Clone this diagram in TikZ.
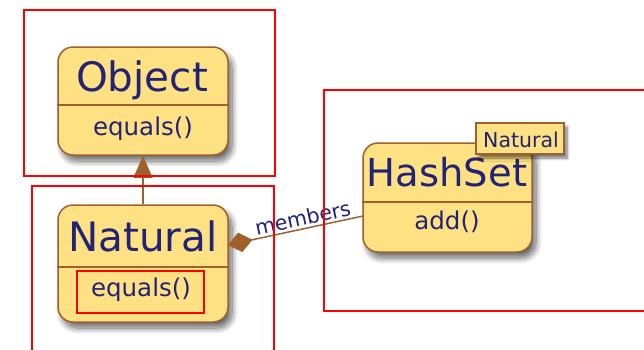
\documentclass[tikz,border=0pt]{standalone}
\usepackage{fontspec}
\setmainfont{DejaVu Sans}
\usetikzlibrary{arrows.meta,shadows.blur}
\definecolor{classfill}{HTML}{FEE182}
\definecolor{classedge}{HTML}{A0602E}
\definecolor{classtext}{HTML}{222277}
\definecolor{framered}{HTML}{FF0000}
\tikzset{
  classbox/.style={draw=classedge, fill=classfill, line width=1.5pt,
    rounded corners=15pt, inner sep=0pt,
    blur shadow={shadow xshift=4pt, shadow yshift=-6pt, shadow blur radius=6pt, shadow blur steps=12, shadow opacity=60}},
  tmplbox/.style={draw=classedge, fill=classfill, line width=1.5pt, inner sep=0pt,
    minimum width=88pt, minimum height=31pt,
    blur shadow={shadow xshift=3pt, shadow yshift=-4pt, shadow blur radius=3pt, shadow blur steps=8, shadow opacity=55}},
  divider/.style={draw=classedge, line width=1.5pt},
  cname/.style={text=classtext, font=\fontsize{40.5}{48}\selectfont, inner sep=0pt, anchor=base},
  cmeth/.style={text=classtext, font=\fontsize{24.5}{30}\selectfont, inner sep=0pt, anchor=base},
  link/.style={draw=classedge, line width=1.5pt},
  redframe/.style={draw=framered, line width=2.5pt},
}
\begin{document}
\begin{tikzpicture}[x=1pt,y=-1pt]
\useasboundingbox (0,0) rectangle (644,349);

% class boxes
\node[classbox, minimum width=170pt, minimum height=108pt] (obj) at (143,101) {};
\node[classbox, minimum width=170pt, minimum height=117pt] (nat) at (143,263.5) {};
\node[classbox, minimum width=169pt, minimum height=109pt] (hs) at (447.5,197.5) {};

% compartment dividers
\draw[divider] (obj.west |- 0,105) -- (obj.east |- 0,105);
\draw[divider] (nat.west |- 0,267) -- (nat.east |- 0,267);
\draw[divider] (hs.west |- 0,202) -- (hs.east |- 0,202);

% class names and operations
\node[cname] (objname) at (142,91) {Object};
\node[cmeth] (objop) at (143,135) {equals()};
\node[cname] (natname) at (143,251) {Natural};
\node[cmeth] (natop) at (141,296) {equals()};
\node[cname, font=\fontsize{38.5}{46}\selectfont] (hsname) at (447,186) {HashSet};
\node[cmeth] (hsop) at (447,229) {add()};

% template parameter of HashSet
\node[tmplbox] (tmpl) at (520,138.5) {};
\node[text=classtext, font=\fontsize{20.5}{24}\selectfont, inner sep=0pt, anchor=base] (tmpltext) at (521,147) {Natural};

% generalization Natural -> Object
\draw[link, -{Triangle[length=22pt, width=19pt]}] (nat.north) -- (obj.south);

% composition Natural <>-- HashSet
\coordinate (compA) at (228,245);
\coordinate (compB) at (363,216);
\draw[link, {Diamond[length=25pt, width=20pt]}-] (compA) -- (compB)
  node[pos=0.57, sloped, above, inner sep=2pt, text=classtext, font=\fontsize{20.5}{24}\selectfont] (memb) {members};

% red highlight frames
\draw[redframe] (24,10) rectangle (275,176);
\draw[redframe] (32,186) rectangle (274,355);
\draw[redframe] (324,90) rectangle (650,311);
\draw[redframe] (77,271) rectangle (204,313);
\end{tikzpicture}
\end{document}
